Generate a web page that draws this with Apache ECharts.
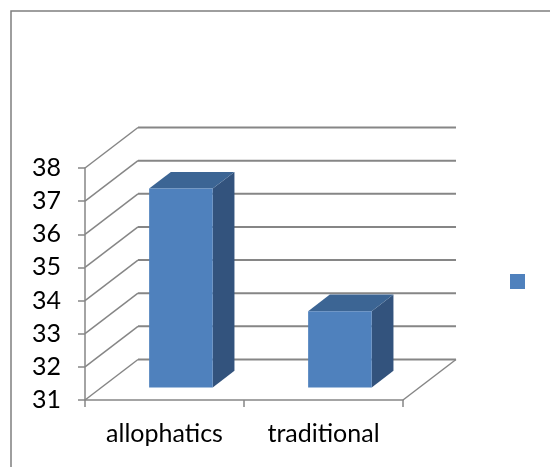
<!DOCTYPE html>
<html>
<head>
<meta charset="utf-8">
<script src="https://cdn.jsdelivr.net/npm/echarts@6/dist/echarts.min.js"></script>
<style>
  html, body { margin: 0; padding: 0; background: #fff; }
  #chart { width: 550px; height: 467px; }
</style>
</head>
<body>
<div id="chart"></div>
<script>
// Category names and the value for each bar
const categories = ['allophatics', 'traditional'];
const values = [37.0, 33.3];
// Value axis ticks
const yTicks = [31, 32, 33, 34, 35, 36, 37, 38];

// Pseudo-3D projection: offset of the back wall relative to the front plane (px)
const DEPTH_X = 53;
const DEPTH_Y = -40.5;
// Where the bar box sits inside the depth (fractions from front to back)
const BAR_FRONT = 0.31;
const BAR_BACK = 0.72;
const BAR_WIDTH = 0.4; // share of a category band

const GRID_COLOR = '#868686';
const FRONT_COLOR = '#4F81BD';
const TOP_COLOR = '#3C6594';
const SIDE_COLOR = '#33537D';
const FONT = 'Lato, "Open Sans", sans-serif';

const chart = echarts.init(document.getElementById('chart'), null, { renderer: 'canvas' });

// Back wall grid lines, their diagonal connectors, and the floor's right edge
function renderWalls(params, api) {
  const v = api.value(1);
  const y = api.coord([0, v])[1];
  const cs = params.coordSys;
  const x0 = cs.x;
  const x1 = cs.x + cs.width;
  const children = [
    {
      type: 'line',
      shape: { x1: x0, y1: y, x2: x0 + DEPTH_X, y2: y + DEPTH_Y },
      style: { stroke: GRID_COLOR, lineWidth: 1.5 }
    },
    {
      type: 'line',
      shape: { x1: x0 + DEPTH_X, y1: y + DEPTH_Y, x2: x1 + DEPTH_X, y2: y + DEPTH_Y },
      style: { stroke: GRID_COLOR, lineWidth: 2 }
    }
  ];
  if (v === yTicks[0]) {
    children.push({
      type: 'line',
      shape: { x1: x1, y1: y, x2: x1 + DEPTH_X, y2: y + DEPTH_Y },
      style: { stroke: GRID_COLOR, lineWidth: 1.5 }
    });
  }
  return { type: 'group', children: children };
}

// A box-shaped bar: front face, top face and right side face
function renderBar(params, api) {
  const cat = api.value(0);
  const v = api.value(1);
  const top = api.coord([cat, v]);
  const base = api.coord([cat, yTicks[0]]);
  const band = api.size([1, 0])[0];
  const w = band * BAR_WIDTH;
  const fx = BAR_FRONT * DEPTH_X, fy = BAR_FRONT * DEPTH_Y;
  const bx = (BAR_BACK - BAR_FRONT) * DEPTH_X, by = (BAR_BACK - BAR_FRONT) * DEPTH_Y;
  const xl = top[0] - w / 2 + fx;
  const xr = top[0] + w / 2 + fx;
  const yt = top[1] + fy;
  const yb = base[1] + fy;
  return {
    type: 'group',
    children: [
      {
        type: 'polygon',
        shape: { points: [[xr, yt], [xr + bx, yt + by], [xr + bx, yb + by], [xr, yb]] },
        style: { fill: SIDE_COLOR }
      },
      {
        type: 'polygon',
        shape: { points: [[xl, yt], [xr, yt], [xr + bx, yt + by], [xl + bx, yt + by]] },
        style: { fill: TOP_COLOR }
      },
      {
        type: 'rect',
        shape: { x: xl, y: yt, width: xr - xl, height: yb - yt },
        style: { fill: FRONT_COLOR }
      }
    ]
  };
}

const option = {
  animation: false,
  backgroundColor: '#ffffff',
  textStyle: { fontFamily: FONT },
  graphic: [
    {
      type: 'rect',
      left: 8.5, top: 8.5,
      shape: { width: 700, height: 600 },
      style: { fill: 'none', stroke: '#7f7f7f', lineWidth: 1.5 },
      silent: true
    }
  ],
  legend: {
    data: [' '],
    left: 510,
    top: 274,
    icon: 'rect',
    itemWidth: 15,
    itemHeight: 15,
    padding: 0,
    itemGap: 0,
    textStyle: { fontSize: 1, color: '#fff' },
    selectedMode: false
  },
  grid: {
    left: 85,
    top: 168,
    width: 318,
    height: 232,
    containLabel: false
  },
  xAxis: {
    type: 'category',
    data: categories,
    boundaryGap: true,
    axisLine: { show: true, lineStyle: { color: GRID_COLOR, width: 1.5 } },
    axisTick: { show: true, length: 7, alignWithLabel: false, lineStyle: { color: GRID_COLOR, width: 1.5 } },
    axisLabel: { color: '#000', fontSize: 25, margin: 21, fontFamily: FONT },
    splitLine: { show: false }
  },
  yAxis: {
    type: 'value',
    min: yTicks[0],
    max: yTicks[yTicks.length - 1],
    interval: 1,
    axisLine: { show: true, lineStyle: { color: GRID_COLOR, width: 1.5 } },
    axisTick: { show: true, length: 7, lineStyle: { color: GRID_COLOR, width: 1.5 } },
    axisLabel: { color: '#000', fontSize: 25, margin: 24, fontFamily: FONT },
    splitLine: { show: false }
  },
  series: [
    {
      name: 'walls',
      type: 'custom',
      renderItem: renderWalls,
      data: yTicks.map(function (t) { return [0, t]; }),
      encode: { x: 0, y: 1 },
      clip: false,
      silent: true,
      z: 1
    },
    {
      name: ' ',
      type: 'custom',
      renderItem: renderBar,
      data: values.map(function (v, i) { return [i, v]; }),
      encode: { x: 0, y: 1 },
      itemStyle: { color: FRONT_COLOR },
      clip: false,
      z: 3
    }
  ]
};

chart.setOption(option);
</script>
</body>
</html>
